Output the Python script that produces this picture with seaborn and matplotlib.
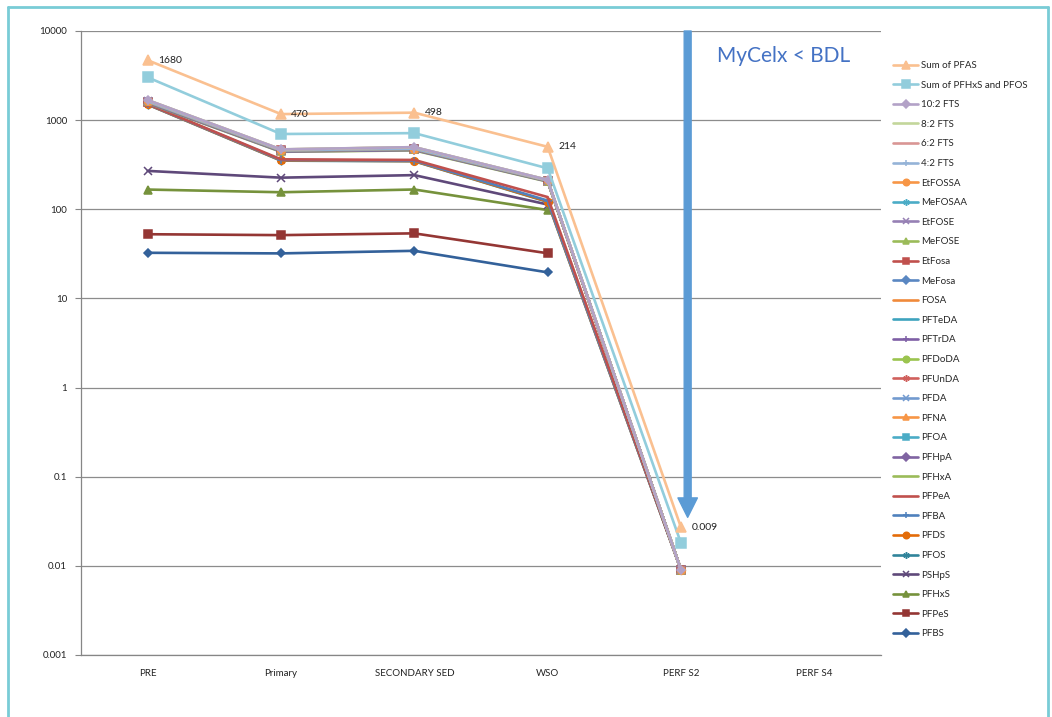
import numpy as np
import pandas as pd
import matplotlib
matplotlib.use("Agg")
import matplotlib.pyplot as plt
import seaborn as sns
from matplotlib.lines import Line2D
from matplotlib.ticker import FuncFormatter, NullLocator, FixedLocator

# Sampling points along the treatment train
categories = ["PRE", "Primary", "SECONDARY SED", "WSO", "PERF S2", "PERF S4"]

# Individual compounds, in stacking order (bottom first)
compounds = ["PFBS", "PFPeS", "PFHxS", "PSHpS", "PFOS", "PFDS", "PFBA", "PFPeA",
             "PFHxA", "PFHpA", "PFOA", "PFNA", "PFDA", "PFUnDA", "PFDoDA",
             "PFTrDA", "PFTeDA", "FOSA", "MeFosa", "EtFosa", "MeFOSE", "EtFOSE",
             "MeFOSAA", "EtFOSSA", "4:2 FTS", "6:2 FTS", "8:2 FTS", "10:2 FTS"]

nan = np.nan
# Concentrations per sampling point, one value per compound (same order as above)
pre = [32.5, 20, 114, 103, 1226, 3, 10, 12, 30, 12, 40, 5, 3, 1, 1, 0.5, 0.5,
       2, 1, 2, 1, 1, 2, 3, 0.5, 50, 3, 1]
primary = [32, 19.3, 104, 71, 125, 2, 4, 6, 78, 3, 8, 1, 1, 0.5, 0.5, 0.2, 0.2,
           0.5, 0.3, 0.5, 0.3, 0.3, 0.5, 1, 0.2, 9.2, 1, 0.5]
secondary_sed = [34.2, 19.5, 113, 75, 104, 2, 4, 6, 100, 4, 10, 1, 1, 0.5, 0.5,
                 0.2, 0.2, 0.5, 0.3, 0.5, 0.3, 0.3, 0.5, 1, 0.2, 17.8, 1, 0.5]
wso = [19.6, 12.5, 66, 15, 8, 1, 3, 12, 67, 1.5, 3, 0.3, 0.3, 0.1, 0.1, 0.05,
       0.05, 0.2, 0.1, 0.2, 0.1, 0.1, 0.2, 0.3, 0.05, 2.8, 0.3, 0.15]
perf_s2 = [nan, nan, nan, nan, 0.009, 0, 0, 0, 0, 0, 0, 0, 0, 0, 0, 0, 0, 0, 0,
           0, 0, 0, 0, 0, 0, 0, 0, 0]
perf_s4 = [nan] * 28

# Totals
sum_pfhxs_pfos = [1340, 229, 217, 74, 0.009, nan]
sum_pfas = [1680, 470, 498, 214, 0.009, nan]

series_names = compounds + ["Sum of PFHxS and PFOS", "Sum of PFAS"]

# Line colours and markers, per series in stacking order
colors = ["#33619A", "#943634", "#76923C", "#5F497A", "#31849B", "#E36C09",
          "#4F81BD", "#C0504D", "#9BBB59", "#8064A2", "#4BACC6", "#F79646",
          "#729ACF", "#D0605C", "#9BC44F", "#7E5FA6", "#3EA3BE", "#F08A3A",
          "#5A87C2", "#C0504D", "#9BBB59", "#9680B4", "#4BACC6", "#F79646",
          "#95B3D7", "#D99694", "#C3D69B", "#B3A2C7", "#92CDDC", "#FAC090"]
asterisk = (6, 2, 0)
marker_cycle = ["D", "s", "^", "x", asterisk, "o", "+", "", ""]
markers = [marker_cycle[i % 9] for i in range(30)]

# Stacked line layout: each line sits on the running total of the ones below
table = pd.DataFrame(
    np.array([pre, primary, secondary_sed, wso, perf_s2, perf_s4]).T,
    index=compounds, columns=categories)
table.loc["Sum of PFHxS and PFOS"] = sum_pfhxs_pfos
table.loc["Sum of PFAS"] = sum_pfas
stacked = table.fillna(0).cumsum(axis=0)
stacked = stacked.where(stacked > 0)

sns.set_style("white")
plt.rcParams["font.family"] = ["Lato", "DejaVu Sans"]

fig = plt.figure(figsize=(10.52, 7.17), dpi=100)
ax = fig.add_axes([81 / 1052, 1 - 655 / 717, 800 / 1052, 624 / 717])

xpos = np.arange(len(categories))
for i, name in enumerate(series_names):
    yvals = stacked.loc[name].values
    m = markers[i]
    big = name.startswith("Sum")
    ms = 6.5 if big else (4.5 if m == "D" else 5.5)
    sns.lineplot(x=xpos, y=yvals, ax=ax, color=colors[i], linewidth=1.9,
                 marker=m if m else None, markersize=ms,
                 markeredgecolor=colors[i], markerfacecolor=colors[i],
                 markeredgewidth=1.1, label=name, zorder=2 + i * 0.01)

# Value labels beside the top (Sum of PFAS) line
top = stacked.loc["Sum of PFAS"].values
for i, v in enumerate(sum_pfas):
    if np.isfinite(v):
        ax.annotate(f"{v:g}", (xpos[i], top[i]), xytext=(7.5, 0),
                    textcoords="offset points", ha="left", va="center",
                    fontsize=7.5, color="#222222", zorder=10)

ax.set_yscale("log")
ax.set_ylim(0.001, 10000)
ax.set_xlim(-0.5, len(categories) - 0.5)
ax.yaxis.set_major_locator(FixedLocator([10.0 ** k for k in range(-3, 5)]))
ax.yaxis.set_minor_locator(NullLocator())
ax.yaxis.set_major_formatter(FuncFormatter(lambda v, _: f"{v:g}"))
ax.set_xticks(xpos)
ax.set_xticklabels(categories)
ax.tick_params(axis="x", length=0, labelsize=7, pad=10, colors="#222222")
ax.tick_params(axis="y", length=4, width=0.8, color="#868686", labelsize=7,
               pad=6, colors="#222222", direction="out", left=True)
ax.yaxis.grid(True, color="#8C8C8C", linewidth=0.9)
ax.xaxis.grid(False)
for s in ["top", "right"]:
    ax.spines[s].set_visible(False)
for s in ["left", "bottom"]:
    ax.spines[s].set_color("#868686")
    ax.spines[s].set_linewidth(0.9)
ax.set_xlabel("")
ax.set_ylabel("")

# Below-detection note with arrow
ax.annotate("", xy=(4.05, 0.035), xytext=(4.05, 10000),
            arrowprops=dict(width=5, headwidth=14, headlength=14,
                            color="#5B9BD5", shrink=0), zorder=9)
fig.text(784 / 1052, 1 - 56 / 717, "MyCelx < BDL", fontsize=15,
         color="#4472C4", ha="center", va="center")

# Legend, listed top of stack first
handles, labels = ax.get_legend_handles_labels()
ax.legend(handles[::-1], labels[::-1], loc="upper left",
          bbox_to_anchor=(893 / 1052, 1 - 61 / 717),
          bbox_transform=fig.transFigure, frameon=False, fontsize=7,
          handlelength=2.6, labelspacing=1.09, handletextpad=0.3,
          borderaxespad=0, borderpad=0, markerscale=0.85)

# Outer frame
frame_c = "#79CCD6"
for xs, ys in [((8, 8), (0, 710)), ((8, 1048), (710, 710)),
               ((1048, 1048), (710, 0))]:
    fig.add_artist(Line2D([x / 1052 for x in xs], [y / 717 for y in ys],
                          color=frame_c, linewidth=2.0,
                          transform=fig.transFigure))

fig.savefig("out.png", dpi=100)
